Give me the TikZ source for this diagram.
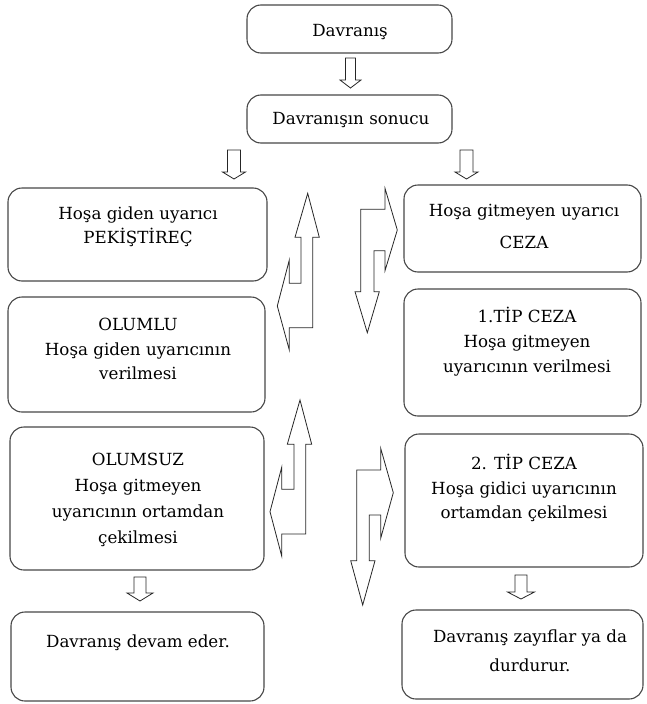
\documentclass[tikz,border=0pt]{standalone}
\usepackage{fontspec}
\setmainfont{DejaVu Serif}
\newcommand{\blockdown}[6]{%
  \draw[blk] ({#1-#5},{#2}) -- ({#1+#5},{#2}) -- ({#1+#5},{#3}) -- ({#1+#6},{#3}) -- ({#1},{#4}) -- ({#1-#6},{#3}) -- ({#1-#5},{#3}) -- cycle;}
\begin{document}
\begin{tikzpicture}[x=1pt,y=-1pt,
  box/.style={draw=black!72,line width=1.1pt,rounded corners=14pt,inner sep=0pt},
  txt/.style={anchor=base,inner sep=0pt,font=\fontsize{16.7}{20}\selectfont,text=black},
  blk/.style={draw=black!85,line width=0.8pt,line join=miter,fill=white}]
\useasboundingbox (0,0) rectangle (646,704);
% boxes
\node[box,minimum width=205pt,minimum height=48pt] (b1) at (349.5,29) {};
\node[box,minimum width=205pt,minimum height=48pt] (b2) at (349.5,119) {};
\node[box,minimum width=259pt,minimum height=93pt] (l1) at (137.5,234.5) {};
\node[box,minimum width=257pt,minimum height=115pt] (l2) at (136.5,354.5) {};
\node[box,minimum width=254pt,minimum height=143pt] (l3) at (137,498.5) {};
\node[box,minimum width=253pt,minimum height=89pt] (l4) at (137.5,656.5) {};
\node[box,minimum width=237pt,minimum height=87pt] (r1) at (522.5,228.5) {};
\node[box,minimum width=237pt,minimum height=127pt] (r2) at (522.5,352.5) {};
\node[box,minimum width=238pt,minimum height=133pt] (r3) at (524,500.5) {};
\node[box,minimum width=241pt,minimum height=89pt] (r4) at (522.5,654.5) {};
% texts
\node[txt] (t1) at (350,36) {Davranış};
\node[txt] (t2) at (351,124) {Davranışın sonucu};
\node[txt] (tl1a) at (138,219.5) {Hoşa giden uyarıcı};
\node[txt] (tl1b) at (138,243) {PEKİŞTİREÇ};
\node[txt] (tl2a) at (138,330.5) {OLUMLU};
\node[txt] (tl2b) at (138,355) {Hoşa giden uyarıcının};
\node[txt] (tl2c) at (138,379) {verilmesi};
\node[txt] (tl3a) at (138,465) {OLUMSUZ};
\node[txt] (tl3b) at (138,491) {Hoşa gitmeyen};
\node[txt] (tl3c) at (138,517) {uyarıcının ortamdan};
\node[txt] (tl3d) at (138,543) {çekilmesi};
\node[txt] (tl4a) at (138,647) {Davranış devam eder.};
\node[txt] (tr1a) at (524,216) {Hoşa gitmeyen uyarıcı};
\node[txt] (tr1b) at (524,248) {CEZA};
\node[txt] (tr2a) at (527,322.7) {1.TİP CEZA};
\node[txt] (tr2b) at (527,347.7) {Hoşa gitmeyen};
\node[txt] (tr2c) at (527,372.7) {uyarıcının verilmesi};
\node[txt] (tr3a) at (524,469) {2. TİP CEZA};
\node[txt] (tr3b) at (524,494) {Hoşa gidici uyarıcının};
\node[txt] (tr3c) at (524,518.3) {ortamdan çekilmesi};
\node[txt] (tr4a) at (530,642) {Davranış zayıflar ya da};
\node[txt] (tr4b) at (530,671) {durdurur.};
% small block arrows
\blockdown{350.5}{58}{80}{88}{5}{10.5}
\blockdown{234}{150}{172}{179}{6.5}{11.5}
\blockdown{466.5}{150}{172}{179}{6.5}{11.5}
\blockdown{140}{577}{593}{601}{6}{13}
\blockdown{521}{575}{592}{599}{6}{13.5}
% big double arrows, upper pair
\draw[blk] (307.7,193.3) -- (319.3,237.3) -- (312.7,237.3) -- (312.7,327.7) -- (289.3,327.7) -- (289.3,350) -- (277.3,306) -- (289.3,260) -- (289.3,283.3) -- (301,283.3) -- (301,237.3) -- (295,237.3) -- cycle;
\draw[blk] (360.7,209.3) -- (385,209.3) -- (385,188.3) -- (397.3,230) -- (385,270.7) -- (385,250.7) -- (374,250.7) -- (374,291.7) -- (379.3,291.7) -- (367.3,332.7) -- (355,291.7) -- (360.7,291.7) -- cycle;
% big double arrows, lower pair
\draw[blk] (300,400) -- (311.7,444.3) -- (305.7,444.3) -- (305.7,534) -- (281.7,534) -- (281.7,556) -- (270,511.7) -- (281.7,467.3) -- (281.7,489.3) -- (294,489.3) -- (294,444.3) -- (287.3,444.3) -- cycle;
\draw[blk] (356.7,470) -- (380.7,470) -- (380.7,448.3) -- (393.3,492.7) -- (380.7,538.3) -- (380.7,515) -- (369.3,515) -- (369.3,560.7) -- (375,560.7) -- (362.7,605) -- (350.7,560.7) -- (356.7,560.7) -- cycle;
\end{tikzpicture}
\end{document}
